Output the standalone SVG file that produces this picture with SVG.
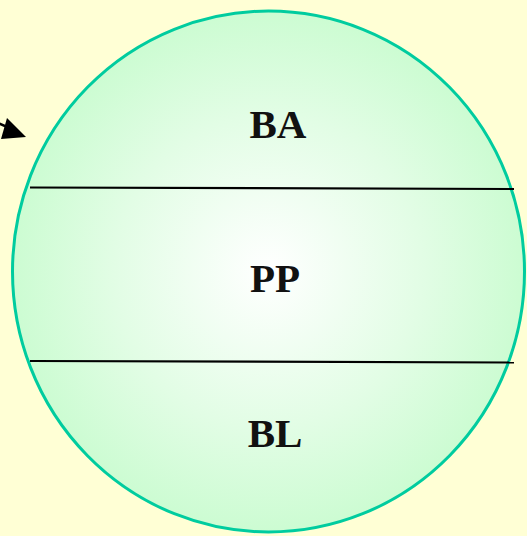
<svg xmlns="http://www.w3.org/2000/svg" width="527" height="536" viewBox="0 0 527 536">
<defs>
<radialGradient id="g" cx="0.5" cy="0.5" r="0.5">
<stop offset="0" stop-color="#ffffff"/>
<stop offset="0.6" stop-color="#e2fde5"/>
<stop offset="1" stop-color="#ccfcd2"/>
</radialGradient>
<style>
.lbl{font-family:"Liberation Serif","Times New Roman",serif;font-weight:bold;font-size:41px;fill:#111;text-anchor:middle}
.div{stroke:#000;stroke-width:2.2;fill:none}
</style>
</defs>
<rect width="527" height="536" fill="#ffffd5"/>
<g id="sphere">
<ellipse cx="268.5" cy="271.5" rx="256" ry="260.5" fill="url(#g)" stroke="#00cc9f" stroke-width="3"/>
</g>
<g id="connectors">
<line class="div" x1="30" y1="187.5" x2="514" y2="189"/>
<line class="div" x1="30" y1="361" x2="514" y2="362.5"/>
<path d="M-4,122 L14,130" stroke="#000" stroke-width="2.5" fill="none"/>
<path d="M26,137 L7,118 L1,139 z" fill="#000"/>
</g>
<g id="BA"><text class="lbl" x="278" y="138">BA</text></g>
<g id="PP"><text class="lbl" x="275" y="292">PP</text></g>
<g id="BL"><text class="lbl" x="275" y="447">BL</text></g>
</svg>
